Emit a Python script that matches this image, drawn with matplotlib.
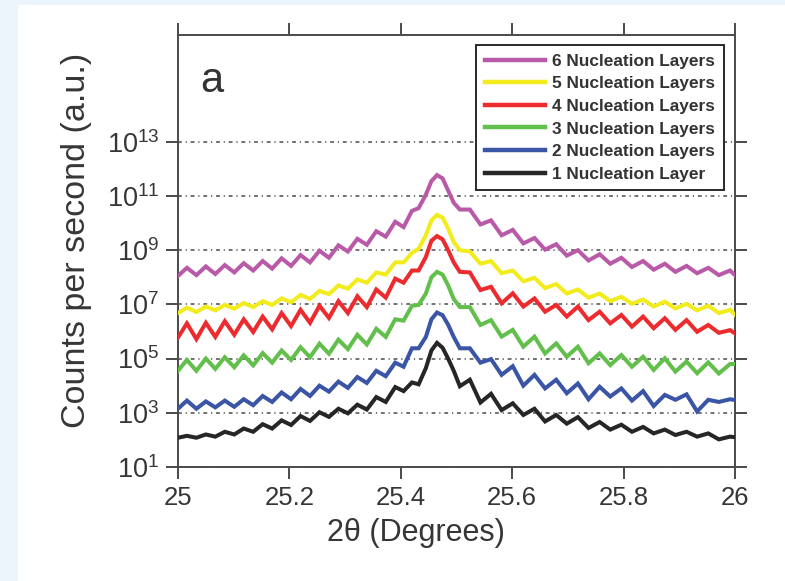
import numpy as np
import matplotlib
matplotlib.use("Agg")
import matplotlib.pyplot as plt
from matplotlib.patches import Rectangle

plt.rcParams['font.family'] = ['Liberation Sans', 'DejaVu Sans']
plt.rcParams['mathtext.fontset'] = 'custom'
plt.rcParams['mathtext.rm'] = 'Liberation Sans'
plt.rcParams['mathtext.it'] = 'Liberation Sans:italic'
plt.rcParams['mathtext.bf'] = 'Liberation Sans:bold'

# ---- data (2theta in degrees, intensity as log10 of counts per second) ----
two_theta = [25.000, 25.016, 25.033, 25.050, 25.067, 25.084, 25.101, 25.118, 25.135, 25.152,
             25.169, 25.186, 25.203, 25.220, 25.237, 25.254, 25.271, 25.288, 25.305, 25.322,
             25.339, 25.356, 25.373, 25.390, 25.405, 25.420, 25.432, 25.445, 25.455, 25.465,
             25.475, 25.485, 25.495, 25.506, 25.524, 25.543, 25.562, 25.581, 25.601, 25.620,
             25.640, 25.659, 25.679, 25.698, 25.718, 25.737, 25.757, 25.776, 25.796, 25.815,
             25.835, 25.854, 25.874, 25.893, 25.913, 25.932, 25.952, 25.971, 25.991, 26.000]

log_1_layer = [2.08, 2.15, 2.08, 2.20, 2.12, 2.30, 2.20, 2.42, 2.30, 2.58,
               2.42, 2.72, 2.55, 2.88, 2.70, 3.02, 2.85, 3.15, 2.98, 3.30,
               3.12, 3.58, 3.40, 3.95, 3.80, 4.12, 4.05, 4.65, 5.30, 5.58,
               5.40, 5.00, 4.55, 3.98, 4.22, 3.38, 3.70, 3.10, 3.35, 2.92,
               3.15, 2.68, 2.92, 2.60, 2.84, 2.44, 2.66, 2.38, 2.56, 2.30,
               2.48, 2.24, 2.38, 2.18, 2.30, 2.12, 2.24, 2.02, 2.12, 2.10]

log_2_layers = [3.15, 3.45, 3.15, 3.42, 3.20, 3.45, 3.22, 3.50, 3.28, 3.62,
                3.40, 3.75, 3.50, 3.88, 3.62, 4.00, 3.78, 4.15, 3.92, 4.32,
                4.10, 4.55, 4.35, 4.85, 4.70, 5.38, 5.38, 5.80, 6.45, 6.70,
                6.60, 6.25, 5.80, 5.38, 5.38, 4.85, 4.98, 4.40, 4.72, 4.00,
                4.40, 3.90, 4.22, 3.72, 4.08, 3.50, 3.96, 3.60, 3.90, 3.45,
                3.80, 3.25, 3.66, 3.48, 3.68, 3.05, 3.48, 3.40, 3.50, 3.47]

log_3_layers = [4.55, 4.95, 4.55, 5.00, 4.62, 5.05, 4.68, 5.12, 4.75, 5.20,
                4.85, 5.30, 4.95, 5.42, 5.05, 5.55, 5.18, 5.70, 5.35, 5.88,
                5.52, 6.10, 5.80, 6.45, 6.40, 6.95, 6.98, 7.40, 8.00, 8.20,
                8.10, 7.70, 7.20, 6.90, 6.90, 6.24, 6.42, 5.81, 6.06, 5.44,
                5.81, 5.19, 5.56, 5.07, 5.44, 4.83, 5.19, 4.76, 5.13, 4.70,
                5.07, 4.58, 5.01, 4.52, 4.89, 4.46, 4.86, 4.45, 4.80, 4.80]

log_4_layers = [5.78, 6.30, 5.72, 6.32, 5.80, 6.38, 5.88, 6.45, 5.98, 6.55,
                6.08, 6.68, 6.20, 6.80, 6.32, 6.95, 6.50, 7.12, 6.68, 7.30,
                6.90, 7.55, 7.25, 7.95, 7.80, 8.25, 8.25, 8.75, 9.35, 9.52,
                9.40, 9.00, 8.55, 8.20, 8.18, 7.53, 7.65, 7.04, 7.41, 6.92,
                7.22, 6.73, 6.98, 6.55, 6.92, 6.42, 6.73, 6.30, 6.61, 6.18,
                6.55, 6.12, 6.49, 6.06, 6.42, 5.99, 6.24, 5.95, 6.05, 5.93]

log_5_layers = [6.68, 6.88, 6.72, 6.92, 6.78, 6.98, 6.84, 7.05, 6.90, 7.12,
                6.98, 7.22, 7.08, 7.35, 7.20, 7.50, 7.38, 7.70, 7.58, 7.92,
                7.80, 8.18, 8.10, 8.55, 8.55, 8.90, 9.05, 9.55, 10.10, 10.30,
                10.20, 9.80, 9.30, 9.00, 8.95, 8.50, 8.60, 8.15, 8.25, 7.85,
                7.98, 7.60, 7.75, 7.40, 7.55, 7.25, 7.40, 7.12, 7.28, 7.02,
                7.18, 6.92, 7.10, 6.85, 7.02, 6.78, 6.95, 6.68, 6.80, 6.62]

log_6_layers = [8.05, 8.35, 8.08, 8.40, 8.12, 8.45, 8.18, 8.52, 8.25, 8.60,
                8.32, 8.70, 8.42, 8.82, 8.55, 8.98, 8.72, 9.18, 8.95, 9.42,
                9.20, 9.70, 9.50, 10.05, 9.85, 10.45, 10.55, 11.05, 11.55, 11.77,
                11.65, 11.20, 10.75, 10.50, 10.50, 9.95, 10.10, 9.55, 9.75, 9.25,
                9.45, 9.02, 9.22, 8.80, 9.00, 8.62, 8.85, 8.50, 8.72, 8.38,
                8.60, 8.28, 8.50, 8.20, 8.42, 8.15, 8.35, 8.08, 8.25, 8.08]

series_labels = ["1 Nucleation Layer", "2 Nucleation Layers", "3 Nucleation Layers",
                 "4 Nucleation Layers", "5 Nucleation Layers", "6 Nucleation Layers"]
series_colors = ["#262626", "#3b55a6", "#62bf4c", "#ec2b2f", "#f2ec1c", "#b95aa8"]
series_logs = [log_1_layer, log_2_layers, log_3_layers, log_4_layers, log_5_layers, log_6_layers]

x_ticks = [25, 25.2, 25.4, 25.6, 25.8, 26]
x_tick_labels = ["25", "25.2", "25.4", "25.6", "25.8", "26"]
y_exponents = [1, 3, 5, 7, 9, 11, 13]

# ---- figure ----
W, H = 785, 581
fig = plt.figure(figsize=(W / 100, H / 100), dpi=100)
fig.patch.set_facecolor("#edf5fc")
bg = Rectangle((18 / W, 0), 1 - 18 / W, 1 - 5 / H, transform=fig.transFigure,
               facecolor="white", edgecolor="none", zorder=-10)
fig.add_artist(bg)

ax = fig.add_axes([178 / W, 1 - 467 / H, (735 - 178) / W, (467 - 35) / H])
ax.set_facecolor("white")
ax.set_zorder(1)

text_color = "#363636"
spine_color = "#4a4a4a"

handles = []
for logs, col, lab in zip(series_logs, series_colors, series_labels):
    h, = ax.plot(two_theta, 10.0 ** np.array(logs), color=col, lw=2.9, label=lab,
                 solid_joinstyle="miter", zorder=3)
    handles.append(h)

ax.set_yscale("log")
ax.set_xlim(25, 26)
ax.set_ylim(10 ** 1, 10 ** 16.94)

ax.set_xticks(x_ticks)
ax.set_xticklabels(x_tick_labels)
ax.set_yticks([10.0 ** e for e in y_exponents])
ax.set_yticklabels([r"$\mathdefault{10^{%d}}$" % e for e in y_exponents])
ax.minorticks_off()

ax.tick_params(axis="both", which="major", direction="out", length=8.5, width=1.4,
               color=spine_color, labelcolor=text_color, labelsize=18.5, pad=5,
               top=True, right=True)
ax.tick_params(axis="y", labelsize=19.5, pad=5)

for sp in ax.spines.values():
    sp.set_color(spine_color)
    sp.set_linewidth(1.4)

ax.yaxis.grid(True, color="#4a4a4a", lw=1.1, linestyle=(0, (2.5, 2.5, 0.8, 2.5)))
ax.set_axisbelow(True)

ax.set_xlabel("2θ (Degrees)", fontsize=22, color=text_color)
ax.xaxis.set_label_coords(0.427, -0.118)
ax.set_ylabel("Counts per second (a.u.)", fontsize=24.5, color=text_color)
ax.yaxis.set_label_coords(-0.155, 0.525)

ax.text(0.04, 0.868, "a", transform=ax.transAxes, fontsize=30, color="#333333",
        ha="left", va="baseline")

leg = ax.legend(handles[::-1], series_labels[::-1], loc="upper right",
                bbox_to_anchor=(0.98, 0.977), borderaxespad=0,
                prop={"size": 12.4, "weight": "bold"}, frameon=True, fancybox=False,
                edgecolor="#2a2a2a", framealpha=1, handlelength=3.5, handletextpad=0.4,
                labelspacing=0.44, borderpad=0.5)
leg.get_frame().set_linewidth(1.4)
for t in leg.get_texts():
    t.set_color("#333333")
for lh in leg.get_lines():
    lh.set_linewidth(3.2)
leg.set_zorder(5)

fig.savefig("out.png", dpi=100, facecolor=fig.get_facecolor())
